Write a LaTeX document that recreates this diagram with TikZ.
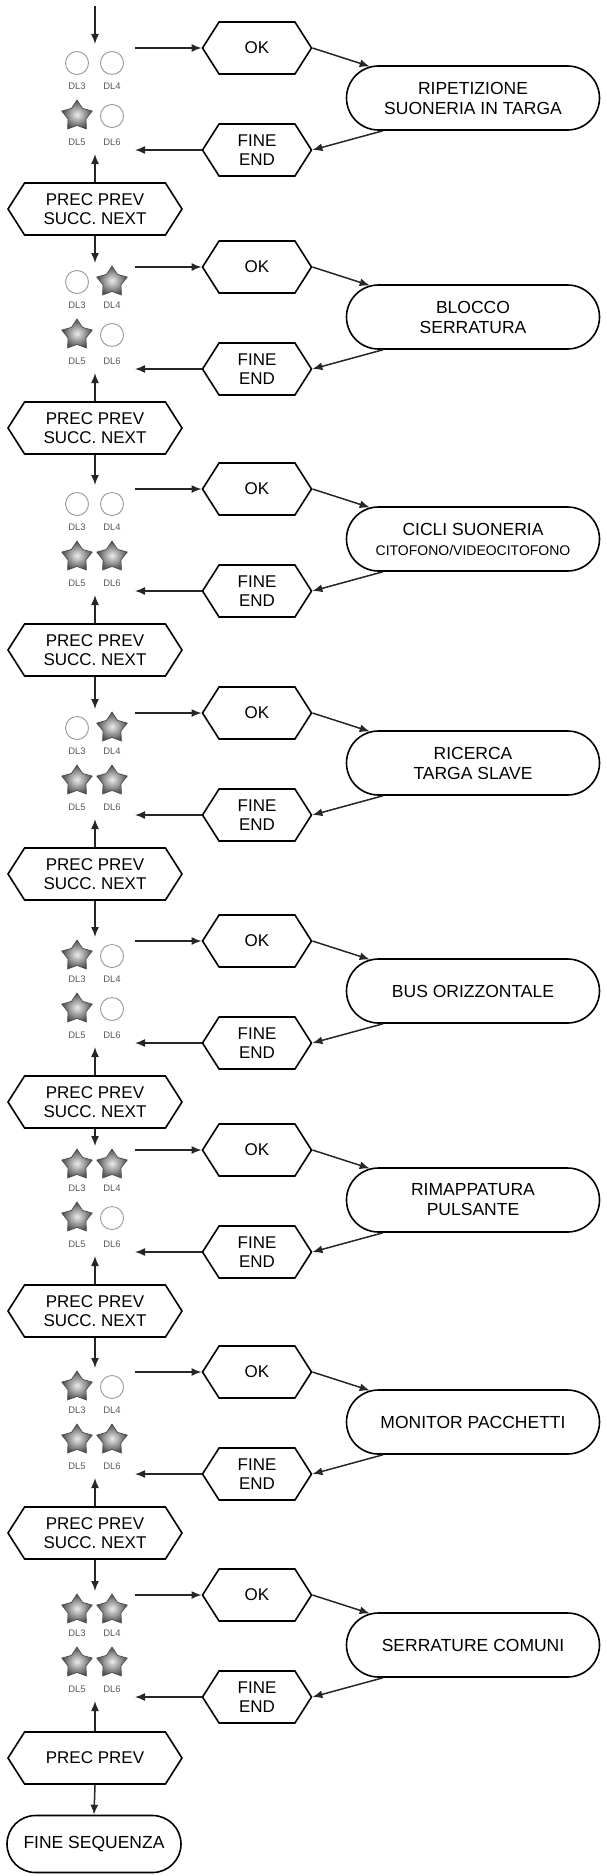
\documentclass[tikz,border=0pt]{standalone}
\usepackage{fontspec}
\setmainfont{Liberation Sans}
\usetikzlibrary{arrows.meta,shapes.geometric,shapes.symbols,shapes.misc}

\begin{document}
\begin{tikzpicture}[x=1pt,y=-1pt]
    \tikzset{hexa/.style = {shape=signal, signal to=east and west, signal pointer angle=115, draw, line width=1.6pt, minimum width=109pt, minimum height=52pt, inner sep=0pt, align=center, font=\fontsize{17}{19}\selectfont}}
    \tikzset{menu/.style = {hexa, minimum width=174pt}}
    \tikzset{func/.style = {shape=rounded rectangle, draw, line width=1.6pt, minimum width=257pt, minimum height=64pt, inner sep=2pt, align=center, font=\fontsize{17.5}{20}\selectfont}}
    \tikzset{ring led/.style = {shape=circle, draw=gray!80, line width=0.9pt, minimum size=23pt, inner sep=0pt}}
    \tikzset{star led/.style = {shape=star, star points=5, star point ratio=1.7, draw=gray!60!black, line width=0.7pt, inner color=gray!15, outer color=gray!60!black, minimum size=32pt, inner sep=0pt}}
    \tikzset{led label/.style = {font=\fontsize{9.5}{10}\selectfont, text=gray!70!black, inner sep=0pt}}
    \tikzset{edge/.style = {draw=black!85, line width=1.5pt, -{Latex[length=10pt,width=8pt]}}}
    \useasboundingbox (0,0) rectangle (607,1876);
    % entry
    \coordinate (start) at (95,6);
    % sections
    \foreach \i/\y/\ny/\a/\b/\c/\d/\txt in {
        1/48/267/0/0/1/0/{RIPETIZIONE\\SUONERIA IN TARGA},
        2/267/489/0/1/1/0/{BLOCCO\\SERRATURA},
        3/489/713/0/0/1/1/{CICLI SUONERIA\\{\fontsize{14}{16}\selectfont CITOFONO/VIDEOCITOFONO}},
        4/713/941/0/1/1/1/{RICERCA\\TARGA SLAVE},
        5/941/1150/1/0/1/0/{BUS ORIZZONTALE},
        6/1150/1372/1/1/1/0/{RIMAPPATURA\\PULSANTE},
        7/1372/1595/1/0/1/1/{MONITOR PACCHETTI},
        8/1595/1595/1/1/1/1/{SERRATURE COMUNI}} {
        % leds
        \ifnum\a=1 \node[star led] (dla\i) at (77,\y+15) {}; \else \node[ring led] (dla\i) at (77,\y+15) {}; \fi
        \ifnum\b=1 \node[star led] (dlb\i) at (112,\y+15) {}; \else \node[ring led] (dlb\i) at (112,\y+15) {}; \fi
        \ifnum\c=1 \node[star led] (dlc\i) at (77,\y+68) {}; \else \node[ring led] (dlc\i) at (77,\y+68) {}; \fi
        \ifnum\d=1 \node[star led] (dld\i) at (112,\y+68) {}; \else \node[ring led] (dld\i) at (112,\y+68) {}; \fi
        \node[led label] (la\i) at (77,\y+38) {DL3};
        \node[led label] (lb\i) at (112,\y+38) {DL4};
        \node[led label] (lc\i) at (77,\y+94) {DL5};
        \node[led label] (ld\i) at (112,\y+94) {DL6};
        \coordinate (top\i) at (95,\y-4);
        \coordinate (out\i) at (135,\y);
        \coordinate (in\i) at (135,\y+102);
        \coordinate (bot\i) at (95,\y+106);
        % menu nodes
        \node[hexa] (ok\i) at (257,\y) {OK};
        \node[func] (box\i) at (473,\y+50) {\txt};
        \node[hexa] (end\i) at (257,\y+102) {FINE\\END};
        % edges
        \draw[edge] (out\i) to (ok\i.west);
        \draw[edge] (ok\i.east) to (box\i.163);
        \draw[edge] (box\i.200) to (end\i.east);
        \draw[edge] (end\i.west) to (in\i);
        \ifnum\i<8
            \node[menu] (nav\i) at (95,\y+161) {PREC PREV\\SUCC. NEXT};
            \coordinate (next\i) at (95,\ny-4);
            \draw[edge] (nav\i.south) to (next\i);
        \else
            \node[menu] (nav\i) at (95,\y+163) {PREC PREV};
        \fi
        \draw[edge] (nav\i.north) to (bot\i);
    }
    \draw[edge] (start) to (top1);
    % exit
    \node[func, minimum width=178pt, minimum height=57pt] (seq) at (94,1844) {FINE SEQUENZA};
    \draw[edge] (nav8.south) to (seq.north);
\end{tikzpicture}
\end{document}
